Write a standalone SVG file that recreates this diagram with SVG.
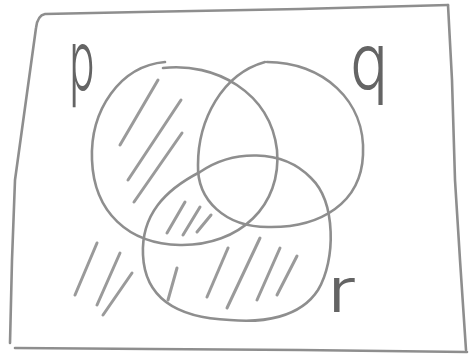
<svg xmlns="http://www.w3.org/2000/svg" width="469" height="358" viewBox="0 0 469 358">
<style>
.pen{fill:none;stroke:#8e8e8e;stroke-width:2.6;stroke-linecap:round;stroke-linejoin:round}
.hatch{fill:none;stroke:#9a9a9a;stroke-width:3;stroke-linecap:round}
.lbl{font-family:Inter,"Liberation Sans",Arial,sans-serif;font-weight:300;fill:#646464;text-anchor:middle}
</style>
<rect width="469" height="358" fill="#ffffff"/>
<g id="universe">
<path class="pen" d="M 448 5 L 300 9 L 140 12 L 45 14 C 40 15 37 19 36 28 L 15 180 L 12 260 L 10 343"/>
<path class="pen" d="M 448 5 L 452 80 L 455 180 L 460 260 L 466 350"/>
<path class="pen" d="M 15 348 L 150 349 L 300 350 L 467 352"/>
</g>
<g id="p">
<path class="pen" d="M 163 68 C 215 62 270 92 277 150 C 282 205 240 246 180 245 C 128 244 94 212 92 160 C 90 110 120 66 165 62"/>
<g transform="translate(82,90) scale(0.5,1)"><text class="lbl" x="0" y="0" font-size="84">p</text></g>
</g>
<g id="q">
<path class="pen" d="M 267 62 C 322 62 366 100 363 155 C 361 202 322 228 268 227 C 225 227 197 200 198 165 C 198 120 222 74 265 62"/>
<g transform="translate(369,89) scale(0.8,1)"><text class="lbl" x="0" y="0" font-size="78">q</text></g>
</g>
<g id="r">
<path class="pen" d="M 200 172 C 232 150 282 148 311 178 C 336 202 336 260 318 290 C 300 318 262 323 230 320 C 180 318 145 300 143 255 C 141 215 165 190 200 172 Z"/>
<g transform="translate(342,312) scale(1.3,1)"><text class="lbl" x="0" y="0" font-size="63">r</text></g>
</g>
<g id="shading">
<path class="hatch" d="M 158 80 L 120 145"/>
<path class="hatch" d="M 181 100 L 128 180"/>
<path class="hatch" d="M 182 133 L 134 202"/>
<path class="hatch" d="M 185 202 L 167 233"/>
<path class="hatch" d="M 200 207 L 183 235"/>
<path class="hatch" d="M 211 215 L 197 232"/>
<path class="hatch" d="M 177 268 L 168 300"/>
<path class="hatch" d="M 228 248 L 207 297"/>
<path class="hatch" d="M 260 238 L 227 308"/>
<path class="hatch" d="M 280 248 L 257 300"/>
<path class="hatch" d="M 297 256 L 277 295"/>
<path class="hatch" d="M 97 243 L 75 295"/>
<path class="hatch" d="M 120 253 L 97 305"/>
<path class="hatch" d="M 132 273 L 103 315"/>
</g>
</svg>
